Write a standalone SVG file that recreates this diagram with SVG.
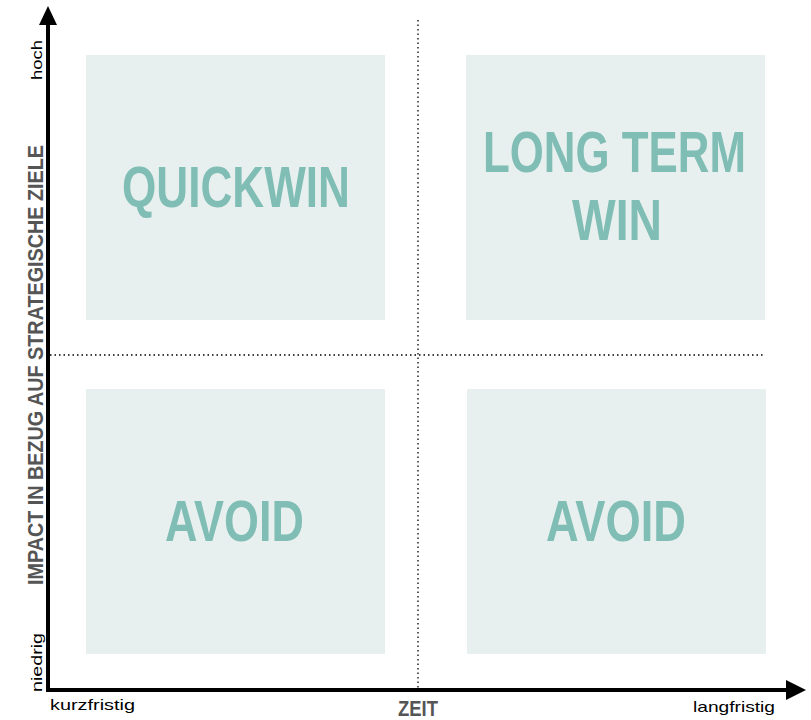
<svg xmlns="http://www.w3.org/2000/svg" width="811" height="720" viewBox="0 0 811 720">
<style>
.box{fill:#e7f0ee}
.big{font-family:"Liberation Sans",Arial,sans-serif;font-weight:bold;font-size:58px;fill:#7fbdb5}
.ax{font-family:"Liberation Sans",Arial,sans-serif;font-size:15px;fill:#000}
.axb{font-family:"Liberation Sans",Arial,sans-serif;font-weight:bold;font-size:22px;fill:#555}
.dot{stroke:#000;stroke-width:1.3;stroke-dasharray:1.5 3;fill:none}
.axis{stroke:#000;stroke-width:4;fill:none}
</style>
<rect width="811" height="720" fill="#fff"/>
<g id="q-topleft">
<rect class="box" x="86" y="55" width="299" height="265"/>
<text class="big" x="122" y="207" textLength="228" lengthAdjust="spacingAndGlyphs">QUICKWIN</text>
</g>
<g id="q-topright">
<rect class="box" x="466" y="55" width="299" height="265"/>
<text class="big" x="483" y="172" textLength="263" lengthAdjust="spacingAndGlyphs">LONG TERM</text>
<text class="big" x="572" y="240" textLength="90" lengthAdjust="spacingAndGlyphs">WIN</text>
</g>
<g id="q-bottomleft">
<rect class="box" x="86" y="389" width="299" height="265"/>
<text class="big" x="165" y="541" textLength="139" lengthAdjust="spacingAndGlyphs">AVOID</text>
</g>
<g id="q-bottomright">
<rect class="box" x="467" y="389" width="299" height="265"/>
<text class="big" x="546" y="541" textLength="140" lengthAdjust="spacingAndGlyphs">AVOID</text>
</g>
<g id="connectors">
<line class="dot" x1="418" y1="20" x2="418" y2="688"/>
<line class="dot" x1="50" y1="355" x2="765" y2="355"/>
<line class="axis" x1="48" y1="692" x2="48" y2="22"/>
<polygon points="48,6 39,25 57,25" fill="#000"/>
<line class="axis" x1="46" y1="690" x2="790" y2="690"/>
<polygon points="806,690 786,680 786,700" fill="#000"/>
</g>
<g id="labels">
<text class="ax" transform="translate(42,80) rotate(-90)" textLength="40" lengthAdjust="spacingAndGlyphs">hoch</text>
<text class="ax" transform="translate(42,692) rotate(-90)" textLength="59" lengthAdjust="spacingAndGlyphs">niedrig</text>
<text class="ax" x="50" y="710" textLength="85" lengthAdjust="spacingAndGlyphs">kurzfristig</text>
<text class="ax" x="693" y="712" textLength="82" lengthAdjust="spacingAndGlyphs">langfristig</text>
<text class="axb" x="398" y="716" font-size="21" textLength="40" lengthAdjust="spacingAndGlyphs">ZEIT</text>
<text class="axb" transform="translate(43,585) rotate(-90)" font-size="23" textLength="440" lengthAdjust="spacingAndGlyphs">IMPACT IN BEZUG AUF STRATEGISCHE ZIELE</text>
</g>
</svg>
